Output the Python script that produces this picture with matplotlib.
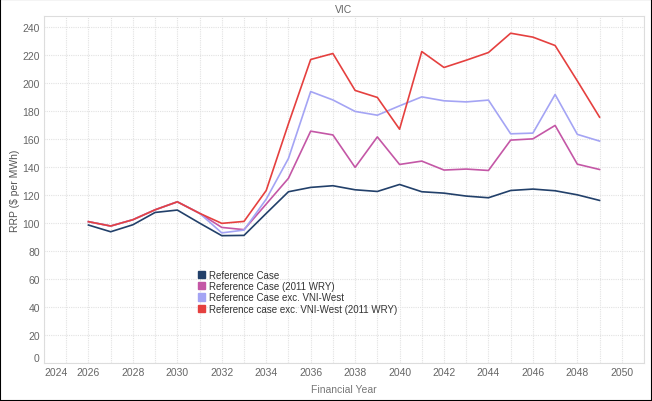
import matplotlib
matplotlib.use("Agg")
import matplotlib.pyplot as plt
from matplotlib.patches import Patch

years = list(range(2026, 2050))
ref_case = [98.6, 93.8, 98.8, 107.6, 109.3, 100.0, 91.0, 91.2, 106.9, 122.4, 125.5, 126.7,
            123.8, 122.6, 127.6, 122.4, 121.4, 119.3, 118.1, 123.3, 124.3, 123.1, 120.2, 116.2]
ref_2011 = [101.0, 97.9, 102.4, 109.5, 115.2, 107.0, 96.9, 95.3, 113.6, 132.0, 165.7, 163.0,
            139.8, 161.6, 141.9, 144.3, 137.9, 138.6, 137.6, 159.3, 160.2, 169.8, 142.1, 138.3]
ref_exc = [101.0, 97.9, 102.4, 109.5, 115.2, 107.0, 93.0, 95.0, 117.1, 146.2, 194.0, 188.0,
           179.8, 177.1, 183.8, 190.2, 187.4, 186.6, 187.9, 163.8, 164.3, 191.9, 163.4, 158.6]
ref_exc_2011 = [101.0, 97.9, 102.4, 109.5, 115.2, 107.0, 99.8, 101.2, 123.3, 171.0, 216.9, 221.2,
                194.8, 189.8, 167.1, 222.6, 211.2, 216.4, 221.9, 235.7, 232.9, 226.9, 201.6, 175.7]

series_names = ["Reference Case", "Reference Case (2011 WRY)",
                "Reference Case exc. VNI-West", "Reference case exc. VNI-West (2011 WRY)"]
series_values = [ref_case, ref_2011, ref_exc, ref_exc_2011]
colors = ["#22406a", "#c457a6", "#a4a4f4", "#e5403f"]

x_ticks = list(range(2024, 2051, 2))
y_ticks = list(range(0, 241, 20))

plt.rcParams['font.family'] = ['Liberation Sans', 'DejaVu Sans']

fig = plt.figure(figsize=(6.52, 4.02), dpi=100)
ax = fig.add_axes([44/652, 38/402, 600/652, 347/402])

for name, vals, c in zip(series_names, series_values, colors):
    ax.plot(years, vals, color=c, lw=1.2, label=name)

ax.set_xlim(2024, 2051)
ax.set_ylim(0, 248)
ax.set_xticks(x_ticks)
ax.set_yticks(y_ticks)
ax.set_xticks(range(2024, 2052), minor=True)
ax.grid(True, which='both', axis='x', color='#e2e2e2', lw=0.8, ls=(0, (1, 1)))
ax.grid(True, which='major', axis='y', color='#e2e2e2', lw=0.8, ls=(0, (1, 1)))
ax.set_axisbelow(True)
ax.tick_params(which='both', length=0, labelsize=7.5, colors='#666666', pad=3)
for s in ax.spines.values():
    s.set_color('#dddddd')
    s.set_linewidth(0.8)
    s.set_linestyle((0, (1, 1)))

# first labels shifted like the reference, to avoid the corner clash
xl = ax.get_xticklabels()
xl[0].set_ha('left')
ax.set_xticklabels(xl)
yl = ax.get_yticklabels()
yl[0].set_va('bottom')
ax.set_yticklabels(yl)
ax.tick_params(which='both', length=0, labelsize=7.5, colors='#666666', pad=3)

ax.set_title("VIC", fontsize=7.5, color='#666666', pad=3)
ax.set_ylabel("RRP ($ per MWh)", fontsize=7.5, color='#555555', labelpad=2)
ax.set_xlabel("Financial Year", fontsize=7.5, color='#777777', labelpad=5)

handles = [Patch(facecolor=c, edgecolor=c, label=n) for n, c in zip(series_names, colors)]
leg = ax.legend(handles=handles, loc='upper left', bbox_to_anchor=(0.256, 0.268),
                frameon=False, fontsize=7, handlelength=0.75, handleheight=0.75,
                handletextpad=0.4, labelspacing=0.12, borderaxespad=0, borderpad=0)
for t in leg.get_texts():
    t.set_color('#333333')

fig.patches.append(plt.Rectangle((0, 0), 1, 1, transform=fig.transFigure,
                                 fill=False, edgecolor='black', lw=1.5))

fig.savefig("out.png", dpi=100)
